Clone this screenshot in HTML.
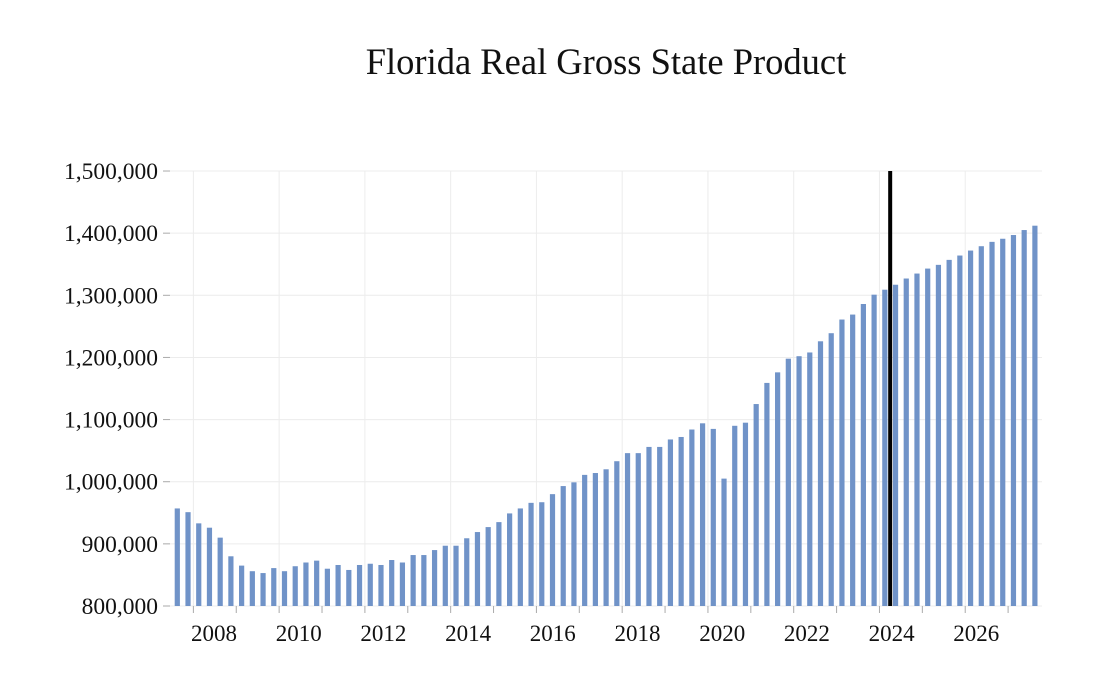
<!DOCTYPE html>
<html><head><meta charset="utf-8"><style>
body{margin:0;background:#fff;}
svg{display:block;font-family:"Liberation Serif",serif;}
</style></head><body>
<svg id="chart" width="1118" height="694">
<text x="606" y="74" text-anchor="middle" font-size="36.5" fill="#111">Florida Real Gross State Product</text>
<g id="grid"></g><g id="bars"></g><g id="axes"></g>
</svg>
<script>
const values=[957,951,933,926,910,880,865,856,853,861,856,864,870,873,860,866,858,866,868,866,874,870,882,882,890,897,897,909,919,927,935,949,957,966,967,980,993,999,1011,1014,1020,1033,1046,1046,1056,1056,1068,1072,1084,1094,1085,1005,1090,1095,1125,1159,1176,1198,1202,1208,1226,1239,1261,1269,1286,1301,1309,1317,1327,1335,1343,1349,1357,1364,1372,1379,1386,1391,1397,1405,1412];
const yTicks=[800,900,1000,1100,1200,1300,1400,1500];
const yearLabels=["2008","2010","2012","2014","2016","2018","2020","2022","2024","2026"];
const forecastAfter=66.5;
const NS="http://www.w3.org/2000/svg";
const y=v=>606-(v-800)*0.6214;
const x=i=>177.3+i*10.72;
function mk(t,a,p){const e=document.createElementNS(NS,t);for(const k in a)e.setAttribute(k,a[k]);p.appendChild(e);return e;}
const grid=document.getElementById('grid'),bars=document.getElementById('bars'),axes=document.getElementById('axes');
yTicks.forEach(v=>{
 const l=mk('line',{x1:170,x2:1042,y1:y(v),y2:y(v),stroke:'#ececec','stroke-width':1},grid);
 
 
 mk('line',{x1:163,x2:170,y1:y(v),y2:y(v),stroke:'#aaa'},axes);
 const t=mk('text',{x:158,y:y(v)+8,'text-anchor':'end','font-size':23.5,fill:'#111'},axes);
 t.textContent=v===800?'800,000':(v>=1000?Math.floor(v/1000)+','+String(v%1000).padStart(3,'0')+',000':v+',000');
 
 
});
for(let k=0;k<20;k++){
 const gx=x(1.5)+k*4*10.72;
 if(gx>1042)break;
 mk('line',{x1:gx,x2:gx,y1:606,y2:613,stroke:'#aaa'},axes);
 if(k%2===0){const g=mk('line',{x1:gx,x2:gx,y1:171,y2:606,stroke:'#ececec'},grid);
  
  }
}
yearLabels.forEach((lab,k)=>{
 const t=mk('text',{x:214+k*84.7,y:641,'text-anchor':'middle','font-size':23,fill:'#111'},axes);
 t.textContent=lab;
 
 
});
values.forEach((v,i)=>{
 const r=mk('rect',{x:x(i)-2.6,y:y(v),width:5.2,height:606-y(v),fill:'#7093c8'},bars);
 
 
});
const fl=mk('line',{x1:x(forecastAfter),x2:x(forecastAfter),y1:171,y2:606,stroke:'#000','stroke-width':4},axes);


</script>
</body></html>
